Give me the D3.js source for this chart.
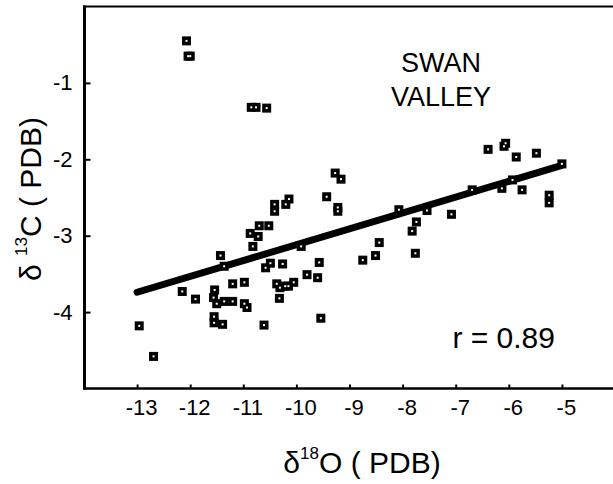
<!DOCTYPE html>
<html>
<head>
<meta charset="utf-8">
<script src="https://cdn.jsdelivr.net/npm/d3@7"></script>
<style>
  html, body { margin: 0; padding: 0; background: #fff; }
  svg { display: block; }
  text { font-family: "Liberation Sans", Arial, sans-serif; fill: #000; }
</style>
</head>
<body>
<svg id="chart" width="613" height="484"></svg>
<script>
// δ18O (PDB) values
const d18O = [
  -12.07, -12.04, -12.00, -10.85, -10.76, -10.56, -12.96, -12.69, -12.15, -11.90,
  -11.43, -11.36, -11.54, -11.56, -11.50, -11.36, -11.20, -11.20, -10.98, -10.98,
  -10.93, -11.55, -11.55, -11.39, -10.61, -10.87, -10.82, -10.72, -10.70, -10.52,
  -10.41, -10.41, -10.20, -10.14, -10.58, -10.49, -10.26, -10.37, -10.31, -10.32,
  -10.21, -10.15, -10.05, -9.91, -9.57, -9.80, -9.60, -9.54, -9.27, -9.16,
  -9.43, -9.22, -9.22, -8.75, -8.51, -8.44, -8.07, -7.82, -7.74, -7.76,
  -7.54, -7.08, -6.69, -6.39, -6.09, -6.06, -5.86, -5.48, -5.00, -5.93,
  -6.13, -5.75, -5.24, -5.24
];
// δ13C (PDB) values
const d13C = [
  -0.45, -0.65, -0.65, -1.32, -1.32, -1.33, -4.18, -4.58, -3.73, -3.83,
  -3.26, -3.40, -3.71, -3.81, -3.89, -3.86, -3.86, -3.63, -3.61, -3.89,
  -3.94, -4.06, -4.14, -4.16, -4.17, -2.97, -3.14, -3.01, -2.87, -2.87,
  -2.68, -2.59, -2.59, -2.52, -3.42, -3.36, -3.37, -3.63, -3.68, -3.82,
  -3.66, -3.66, -3.61, -3.14, -3.35, -3.51, -3.55, -4.08, -2.18, -2.26,
  -2.49, -2.63, -2.68, -3.32, -3.26, -3.09, -2.66, -2.94, -2.82, -3.23,
  -2.67, -2.72, -2.40, -1.87, -1.83, -1.79, -1.97, -1.92, -2.06, -2.27,
  -2.38, -2.40, -2.47, -2.57
];
// regression line end points
const fitX = [-13, -5];
const fitY = [-3.74, -2.08];

const xTicks = [-13, -12, -11, -10, -9, -8, -7, -6, -5];
const yTicks = [-1, -2, -3, -4];
const siteLines = ["SWAN", "VALLEY"];
const rLabel = "r = 0.89";

const svg = d3.select("#chart");
const x = d3.scaleLinear().domain([-14, -4]).range([84, 615]);
const y = d3.scaleLinear().domain([-5, 0]).range([388.5, 6.5]);

// frame
svg.append("line").attr("x1", 84.5).attr("x2", 84.5).attr("y1", 5.5).attr("y2", 389.5)
  .attr("stroke", "#000").attr("stroke-width", 3);
svg.append("line").attr("x1", 83).attr("x2", 613).attr("y1", y(0)).attr("y2", y(0))
  .attr("stroke", "#000").attr("stroke-width", 2.2);
svg.append("line").attr("x1", 83).attr("x2", 613).attr("y1", y(-5)).attr("y2", y(-5))
  .attr("stroke", "#000").attr("stroke-width", 2.6);

// axes
const yAxis = svg.append("g").attr("transform", "translate(84.5,0)")
  .call(d3.axisLeft(y).tickValues(yTicks).tickSize(-6).tickPadding(12).tickFormat(d => String(d)));
yAxis.select(".domain").remove();
yAxis.selectAll(".tick line").attr("stroke", "#000").attr("stroke-width", 2);
yAxis.selectAll(".tick text").attr("font-size", 22).attr("font-family", "Liberation Sans, Arial, sans-serif");

const xAxis = svg.append("g").attr("transform", `translate(0,${y(-5)})`)
  .call(d3.axisBottom(x).tickValues(xTicks).tickSize(-4).tickPadding(11).tickFormat(d => String(d)));
xAxis.select(".domain").remove();
xAxis.selectAll(".tick line").attr("stroke", "#000").attr("stroke-width", 2);
xAxis.selectAll(".tick text").attr("font-size", 22).attr("dx", 4)
  .attr("font-family", "Liberation Sans, Arial, sans-serif");

// regression line
svg.append("line")
  .attr("x1", x(fitX[0])).attr("y1", y(fitY[0]))
  .attr("x2", x(fitX[1])).attr("y2", y(fitY[1]))
  .attr("stroke", "#000").attr("stroke-width", 7).attr("stroke-linecap", "round");

// points
const pts = d18O.map((v, i) => ({ x: v, y: d13C[i] }));
const g = svg.append("g");
g.selectAll("rect.m").data(pts).join("rect").attr("class", "m")
  .attr("x", d => x(d.x) - 4.5).attr("y", d => y(d.y) - 4.5)
  .attr("width", 9).attr("height", 9).attr("fill", "#000");
g.selectAll("rect.c").data(pts).join("rect").attr("class", "c")
  .attr("x", d => x(d.x) - 1).attr("y", d => y(d.y) - 1)
  .attr("width", 2).attr("height", 2).attr("fill", "#fff");

// site label
svg.append("text").attr("x", 441).attr("y", 72).attr("text-anchor", "middle")
  .attr("font-size", 27).text(siteLines[0]);
svg.append("text").attr("x", 441).attr("y", 106).attr("text-anchor", "middle")
  .attr("font-size", 27).text(siteLines[1]);

// r label
svg.append("text").attr("x", 555).attr("y", 348).attr("text-anchor", "end")
  .attr("font-size", 30).text(rLabel);

// x title
const xt = svg.append("text").attr("x", 362).attr("y", 473).attr("text-anchor", "middle")
  .attr("font-size", 30);
xt.append("tspan").text("δ");
xt.append("tspan").attr("font-size", 17).attr("dy", -14).text("18");
xt.append("tspan").attr("dy", 14).text("O ( PDB)");

// y title
const yt = svg.append("text").attr("transform", "translate(41,199) rotate(-90)")
  .attr("text-anchor", "middle").attr("font-size", 30);
yt.append("tspan").text("δ ");
yt.append("tspan").attr("font-size", 17).attr("dy", -14).text("13");
yt.append("tspan").attr("dy", 14).text("C ( PDB)");
</script>
</body>
</html>
